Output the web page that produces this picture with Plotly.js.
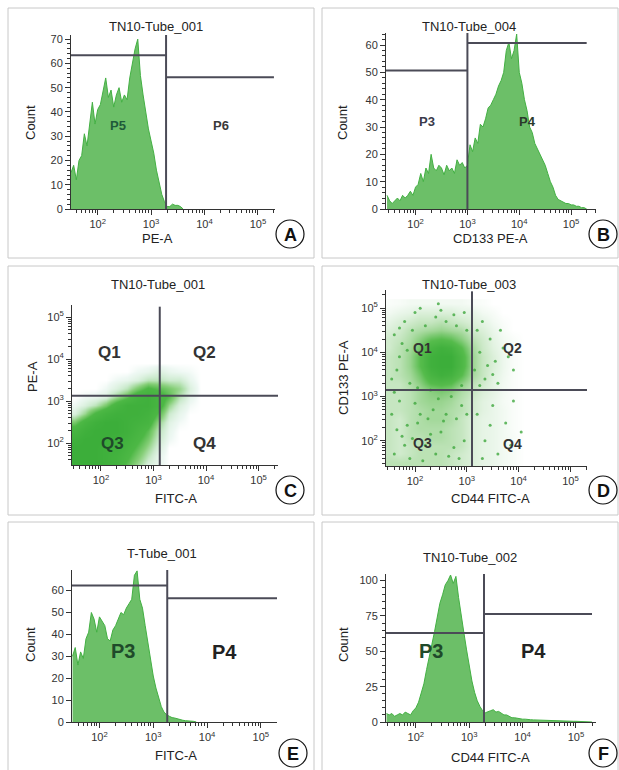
<!DOCTYPE html>
<html><head><meta charset="utf-8">
<script src="https://cdn.plot.ly/plotly-3.0.1.min.js"></script>
<style>html,body{margin:0;padding:0;background:#fff}</style>
</head><body><div id="chart" style="width:619px;height:770px"></div>
<script>
// ---------- DATA ----------
const decadeTicks = [2, 3, 4, 5];
const decadeLabels = ['10<sup>2</sup>', '10<sup>3</sup>', '10<sup>4</sup>', '10<sup>5</sup>'];

const panelTitles = ['TN10-Tube_001', 'TN10-Tube_004', 'TN10-Tube_001', 'TN10-Tube_003', 'T-Tube_001', 'TN10-Tube_002'];
const xTitles = ['PE-A', 'CD133 PE-A', 'FITC-A', 'CD44 FITC-A', 'FITC-A', 'CD44 FITC-A'];
const yTitles = ['Count', 'Count', 'PE-A', 'CD133 PE-A', 'Count', 'Count'];
const panelLetters = ['A', 'B', 'C', 'D', 'E', 'F'];

// histogram bins: log10 of intensity, first bin centre + bin width
const binWidth = 0.05;
const histA_first = 1.50;
const histA_counts = [15,18,12,20,22,31,26,36,44,35, 41,43,48,54,46,49,42,47,50,44,47,45,54,60,66,70,55,47,40,33, 28,23,16,11,6,3,1,1,2,1.5,1.5,1,0];
const histB_first = 1.45;
const histB_counts = [5,3,2,3,4,3,5,4,5,6.5,5,
  8,9,13,10,15,13,20,15,14,16,15,12.5,16,14,15,13,18,16,17,15,
  16,23.5,21,26,24,31,30,33,37,38,40,42,45,47,50,58,61,55,58,64,
  50,46,40,36,30,28,24,22,20,18,16,13,10,8,5,3.5,3,2.5,2,2,
  1.5,1.5,1,1,0.5,0.5,0];
const histE_first = 1.50;
const histE_counts = [30,34,26,32,29,38,41,50,47,41,
  48,46,44,38,37,42,44,47,50,49,52,54,56,67,69,56,52,44,36,29,
  21,15.5,11,7,4.5,3.3,2.6,2,1.8,1.4,1,0.8,0.6,0.6,0.4,0.3,0];
const histF_first = 1.45;
const histF_counts = [6,5,6,4,5,6,5,7,6,5,8,
  10,14,20,27,37,47,55,64,74,84,90,97,100,104,98,103,88,74,63,51,
  39,29,21,15,11,8,6.5,7,8,8.7,7,7.5,6,5,5,4,3,3,2.5,2.4,
  2,2,1.6,1.6,1.5,1.4,1.3,1.2,1.2,1.1,1.2,1,0.9,0.8,0.6,0.5,0.5,0.5,0.5,0.5,
  0.5,0.5,0.4,0.3,0.3,0.2,0];

// gates (log10 position of vertical gate, left & right horizontal gate heights)
const gateA = {x: 3.28, left: 63.4, right: 54.3};
const gateB = {x: 3.00, left: 50.7, right: 60.7};
const gateE = {x: 3.26, left: 62.3, right: 56.5};
const gateF = {x: 3.276, left: 63.0, right: 76.4};
const quadC = {x: 3.12, y: 3.13};
const quadD = {x: 3.10, y: 3.15};

// density grids (log10 FITC / PE), relative density 0..10
const gridStep = 0.2;
const densC_x0 = 1.5, densC_y0 = 1.5;
const densC = [
  [10,10,10,9,8,5,3,1,0.5,0,0,0,0],
  [10,10,10,9,8,6,4,2,0.5,0,0,0,0],
  [10,10,10,9,9,7,5,3,1,0,0,0,0],
  [9,10,10,10,9,8,6,4,1.5,0.3,0,0,0],
  [7,9,10,10,10,9,7,5,2,0.5,0,0,0],
  [4,7,9,10,10,9,8,7,3,0.8,0.2,0,0],
  [1,3,6,8,9,9,9,8,5,1.5,0.5,0,0],
  [0.3,1,2,4,7,9,9,9,7,3,1,0.2,0],
  [0,0.3,0.5,1,3,5,8,9,7,5,2,0.5,0],
  [0,0,0,0.3,1,2,4,6,5,4,3,1,0],
  [0,0,0,0,0.3,0.5,1,2,2,1.5,1.5,0.5,0],
  [0,0,0,0,0,0,0.3,0.5,1,0.5,0.3,0.2,0],
  [0,0,0,0,0,0,0,0,0,0,0,0,0]
];
const densD_x0 = 1.5, densD_y0 = 1.5;
const densD = [
  [3,3,3,3,3,3,2.5,2,1.5,1,0.8,0.5,0.3,0],
  [2.5,2,2.5,3,3,3,2.5,2,1.5,1,0.8,0.5,0.3,0],
  [2.5,2,2.5,3,3,3,3,2.5,1.5,1,0.8,0.5,0.3,0],
  [2.5,2,3,3,3.5,3.5,3,2.5,1.5,1,0.8,0.5,0.3,0],
  [2.5,2,3,3.5,3.5,3.5,3,2.5,1.5,1,0.8,0.5,0.2,0],
  [2.5,2,3,3.5,4,4,3.5,2.5,1.5,1,0.8,0.5,0.2,0],
  [2.5,2.5,3,3.5,4,4,3.5,3,2,1.2,0.8,0.5,0.2,0],
  [2.5,2.5,3,4,4.5,4.5,4,3,2,1.2,0.8,0.4,0.2,0],
  [2.5,2.5,3,4,5,5.5,5,3.5,2.5,1.5,1,0.5,0.2,0],
  [2.5,2.5,3.5,5,7,7.5,7,5,3,2,1,0.5,0.2,0],
  [2.5,3,4,6,8.5,9.5,9,7,4,2.5,1.2,0.6,0.2,0],
  [2.5,3,4.5,7,9.5,10,10,8,4.5,2.5,1.5,0.7,0.2,0],
  [2.5,3,4.5,7,9.5,10,10,8,4.5,2.5,1.5,0.7,0.2,0],
  [2,3,4,6,8.5,9.5,9,7,4,2.2,1.2,0.6,0.2,0],
  [2,2.5,3.5,5,6.5,7,6.5,5,3,2,1,0.5,0.2,0],
  [1.5,2,3,3.5,4,4.5,4,3.5,2,1.5,0.8,0.3,0,0],
  [1,1.5,2,2.5,2.5,3,2.5,2,1.5,1,0.5,0.2,0,0],
  [0.5,0.8,1,1.5,1.5,1.5,1.5,1,1,0.5,0.3,0,0,0],
  [0.2,0.3,0.5,0.5,0.5,0.5,0.5,0.5,0.3,0.2,0,0,0,0]
];
// individual events seen scattered around the D population (log10 FITC, log10 PE)
const eventsD_x = [1.6,1.75,1.9,2.05,2.2,2.35,2.5,2.65,2.8,2.95,1.55,1.7,1.85,2.0,2.15,2.3,2.45,2.6,2.75,2.9,1.65,1.8,2.1,2.4,2.55,2.7,2.85,3.0,1.95,2.25,
  1.55,1.7,1.6,1.8,1.9,1.75,2.0,2.2,2.4,2.6,2.8,2.95,2.1,1.65,1.85,2.05,1.95,2.5,2.75,3.0,1.6,2.3,2.9,1.7,2.45,
  3.15,3.25,3.35,3.45,3.55,3.2,3.4,3.6,3.7,3.3,3.5,3.8,3.25,3.65,3.9,
  3.2,3.35,3.5,3.6,3.75,3.9,4.05,3.3,3.45,3.85];
const eventsD_y = [1.7,2.1,1.6,2.4,1.9,2.7,2.2,1.65,2.5,2.0,2.6,2.9,2.35,2.85,1.55,2.15,2.95,2.6,1.85,2.8,2.25,1.9,2.6,1.7,2.45,3.0,1.6,2.6,2.05,2.5,
  3.4,3.9,4.4,4.7,3.3,4.2,4.9,4.6,4.8,4.7,4.6,4.9,5.0,3.6,4.05,3.2,4.5,4.95,4.85,4.5,3.1,3.15,3.25,4.55,5.1,
  3.6,4.0,3.4,4.3,3.8,4.5,3.7,3.3,4.1,4.7,3.5,3.9,3.25,4.5,3.6,
  2.6,2.0,2.8,1.7,2.4,2.9,2.2,1.6,2.35,1.9];

// ---------- LAYOUT HELPERS ----------
const W = 619, H = 770;
const FONT = 'Liberation Sans, Arial, Helvetica, sans-serif';
const px = v => v / W, py = v => 1 - v / H;
const minorLog = [];
for (let d = 1; d <= 5; d++) for (let k = 2; k <= 9; k++) minorLog.push(d + Math.log10(k));

function logAxis(a0, a1, range, anchor) {
  return {
    domain: [a0, a1], range: range, anchor: anchor, showline: true, linecolor: '#333', linewidth: 1,
    ticks: 'outside', ticklen: 5, tickwidth: 1, tickcolor: '#333',
    tickmode: 'array', tickvals: decadeTicks, ticktext: decadeLabels,
    tickfont: {family: FONT, size: 11, color: '#333'},
    showgrid: false, zeroline: false, fixedrange: true,
    minor: {tickmode: 'array', tickvals: minorLog, ticks: 'outside', ticklen: 3, tickwidth: 1, tickcolor: '#333', showgrid: false}
  };
}
function linAxis(a0, a1, range, anchor, dtick, minorDtick) {
  const ax = {
    domain: [a0, a1], range: range, anchor: anchor, showline: true, linecolor: '#333', linewidth: 1,
    ticks: 'outside', ticklen: 5, tickwidth: 1, tickcolor: '#333', dtick: dtick, tick0: 0,
    tickfont: {family: FONT, size: 11, color: '#333'},
    showgrid: false, zeroline: false, fixedrange: true
  };
  if (minorDtick) ax.minor = {dtick: minorDtick, ticks: 'outside', ticklen: 3, tickwidth: 1, tickcolor: '#333', showgrid: false};
  return ax;
}

// plot boxes in px [left, top, right, bottom]
const boxes = [
  [71, 35, 275, 209],
  [386, 33, 596, 209],
  [72, 305, 278, 465],
  [386, 290, 587, 466],
  [72, 570, 277, 722],
  [386, 574, 596, 722]
];
const xRanges = [[1.5, 5.32], [1.43, 5.48], [1.45, 5.37], [1.44, 5.32], [1.49, 5.30], [1.44, 5.375]];
const yRanges = [[0, 71.7], [0, 64.4], [1.48, 5.29], [1.43, 5.41], [0, 69.4], [0, 104.7]];

const layout = {
  width: W, height: H, margin: {l: 0, r: 0, t: 0, b: 0},
  paper_bgcolor: '#fff', plot_bgcolor: 'rgba(0,0,0,0)', showlegend: false,
  font: {family: FONT, color: '#222'},
  shapes: [], annotations: []
};
boxes.forEach((b, i) => {
  const n = i === 0 ? '' : String(i + 1);
  const xd = [px(b[0]), px(b[2])], yd = [py(b[3]), py(b[1])];
  layout['xaxis' + n] = logAxis(xd[0], xd[1], xRanges[i], 'y' + n);
  if (i === 2 || i === 3) layout['yaxis' + n] = logAxis(yd[0], yd[1], yRanges[i], 'x' + n);
  else if (i === 5) layout['yaxis' + n] = linAxis(yd[0], yd[1], yRanges[i], 'x' + n, 25, 5);
  else if (i === 4) layout['yaxis' + n] = linAxis(yd[0], yd[1], yRanges[i], 'x' + n, 10, null);
  else layout['yaxis' + n] = linAxis(yd[0], yd[1], yRanges[i], 'x' + n, 10, 2);
});

// panel frames
const frames = [[8, 8, 314, 258], [322, 8, 618, 258], [8, 266, 314, 515], [322, 266, 618, 515], [8, 522, 314, 775], [322, 522, 618, 775]];
frames.forEach(f => layout.shapes.push({type: 'rect', xref: 'paper', yref: 'paper', x0: px(f[0]), x1: px(f[2]), y0: py(f[3]), y1: py(f[1]), line: {color: '#c8c8c8', width: 1}, layer: 'below'}));

// titles, axis titles, letters (px positions)
const titlePos = [[156, 27], [469, 27], [158, 285], [469, 285], [162, 553], [470, 557]];
const xTitlePos = [[157, 238], [490, 238], [176, 498], [490, 498], [176, 755], [490, 757]];
const yTitlePos = [[30, 123], [342, 123], [32, 377], [343, 378], [30, 645], [343, 645]];
const letterPos = [[290, 234], [603, 234], [290, 490], [603, 490], [293, 753], [603, 753]];
for (let i = 0; i < 6; i++) {
  layout.annotations.push({xref: 'paper', yref: 'paper', x: px(titlePos[i][0]), y: py(titlePos[i][1]), text: panelTitles[i], showarrow: false, xanchor: 'center', yanchor: 'middle', font: {family: FONT, size: 13, color: '#222'}});
  layout.annotations.push({xref: 'paper', yref: 'paper', x: px(xTitlePos[i][0]), y: py(xTitlePos[i][1]), text: xTitles[i], showarrow: false, xanchor: 'center', yanchor: 'middle', font: {family: FONT, size: 13, color: '#222'}});
  layout.annotations.push({xref: 'paper', yref: 'paper', x: px(yTitlePos[i][0]), y: py(yTitlePos[i][1]), text: yTitles[i], showarrow: false, textangle: -90, xanchor: 'center', yanchor: 'middle', font: {family: FONT, size: 13, color: '#222'}});
  const c = letterPos[i], r = 14;
  layout.shapes.push({type: 'circle', xref: 'paper', yref: 'paper', x0: px(c[0] - r), x1: px(c[0] + r), y0: py(c[1] + r), y1: py(c[1] - r), line: {color: '#111', width: 1.2}, fillcolor: '#fff'});
  layout.annotations.push({xref: 'paper', yref: 'paper', x: px(c[0]), y: py(c[1] + 1), text: '<b>' + panelLetters[i] + '</b>', showarrow: false, xanchor: 'center', yanchor: 'middle', font: {family: FONT, size: 18, color: '#111'}});
}

// gates
const GATE = {color: '#4b4b57', width: 2};
function histGates(n, g, xr, yr) {
  layout.shapes.push({type: 'line', xref: 'x' + n, yref: 'y' + n, x0: g.x, x1: g.x, y0: yr[0], y1: yr[1], line: GATE});
  layout.shapes.push({type: 'line', xref: 'x' + n, yref: 'y' + n, x0: xr[0], x1: g.x, y0: g.left, y1: g.left, line: GATE});
  layout.shapes.push({type: 'line', xref: 'x' + n, yref: 'y' + n, x0: g.x, x1: 5.30, y0: g.right, y1: g.right, line: GATE});
}
histGates('', gateA, xRanges[0], yRanges[0]);
histGates('2', gateB, xRanges[1], yRanges[1]);
histGates('5', gateE, xRanges[4], yRanges[4]);
histGates('6', gateF, xRanges[5], yRanges[5]);
function quadGates(n, q, xr, yr, top) {
  layout.shapes.push({type: 'line', xref: 'x' + n, yref: 'y' + n, x0: q.x, x1: q.x, y0: yr[0], y1: top, line: GATE});
  layout.shapes.push({type: 'line', xref: 'x' + n, yref: 'y' + n, x0: xr[0], x1: xr[1], y0: q.y, y1: q.y, line: GATE});
}
quadGates('3', quadC, xRanges[2], yRanges[2], 5.25);
quadGates('4', quadD, xRanges[3], yRanges[3], 5.38);

// gate labels (data coords)
function lab(n, x, y, t, size, color) {
  layout.annotations.push({xref: 'x' + n, yref: 'y' + n, x: x, y: y, text: '<b>' + t + '</b>', showarrow: false, xanchor: 'center', yanchor: 'middle', font: {family: FONT, size: size, color: color}});
}
lab('', 2.38, 34.6, 'P5', 13, '#1f5a3a');
lab('', 4.31, 34.6, 'P6', 13, '#3a3a3a');
lab('2', 2.22, 32.1, 'P3', 13, '#3a3a4a');
lab('2', 4.15, 32.1, 'P4', 13, '#2a3a2a');
lab('3', 2.17, 4.15, 'Q1', 17, '#333');
lab('3', 3.98, 4.15, 'Q2', 17, '#333');
lab('3', 2.23, 2.0, 'Q3', 17, '#1f4a2a');
lab('3', 3.98, 2.0, 'Q4', 17, '#333');
lab('4', 2.15, 4.10, 'Q1', 14, '#333');
lab('4', 3.88, 4.10, 'Q2', 14, '#333');
lab('4', 2.15, 1.95, 'Q3', 14, '#333');
lab('4', 3.88, 1.93, 'Q4', 14, '#333');
lab('5', 2.43, 32.5, 'P3', 20, '#1f4a2a');
lab('5', 4.33, 32.0, 'P4', 20, '#222');
lab('6', 2.29, 50, 'P3', 20, '#1f4a2a');
lab('6', 4.20, 50, 'P4', 20, '#222');

// ---------- TRACES ----------
const HFILL = '#6cbf68', HLINE = '#43b043';
function hist(n, first, counts) {
  return {type: 'scatter', mode: 'lines', x0: first, dx: binWidth, y: counts, xaxis: 'x' + n, yaxis: 'y' + n,
    fill: 'tozeroy', fillcolor: HFILL, line: {color: HLINE, width: 1}, hoverinfo: 'skip'};
}
const scaleC = [[0, '#ffffff'], [0.03, '#eef8f3'], [0.15, '#cdebcf'], [0.35, '#86cf78'], [0.55, '#4db845'], [1, '#3cae3a']];
const scaleD = [[0, '#ffffff'], [0.08, '#eaf6ea'], [0.25, '#c6e6c1'], [0.45, '#98d48e'], [0.7, '#56bc4c'], [1, '#3cae3a']];
function dens(n, x0, y0, z, scale) {
  return {type: 'heatmap', x0: x0, dx: gridStep, y0: y0, dy: gridStep, z: z, zmin: 0, zmax: 10, zsmooth: 'best',
    colorscale: scale, showscale: false, xaxis: 'x' + n, yaxis: 'y' + n, hoverinfo: 'skip'};
}
const data = [
  hist('', histA_first, histA_counts),
  hist('2', histB_first, histB_counts),
  dens('3', densC_x0, densC_y0, densC, scaleC),
  dens('4', densD_x0, densD_y0, densD, scaleD),
  {type: 'scatter', mode: 'markers', x: eventsD_x, y: eventsD_y, xaxis: 'x4', yaxis: 'y4',
    marker: {size: 3, color: '#3fa83d', opacity: 0.8}, hoverinfo: 'skip'},
  hist('5', histE_first, histE_counts),
  hist('6', histF_first, histF_counts)
];

Plotly.newPlot('chart', data, layout, {staticPlot: true, displayModeBar: false});
</script></body></html>
